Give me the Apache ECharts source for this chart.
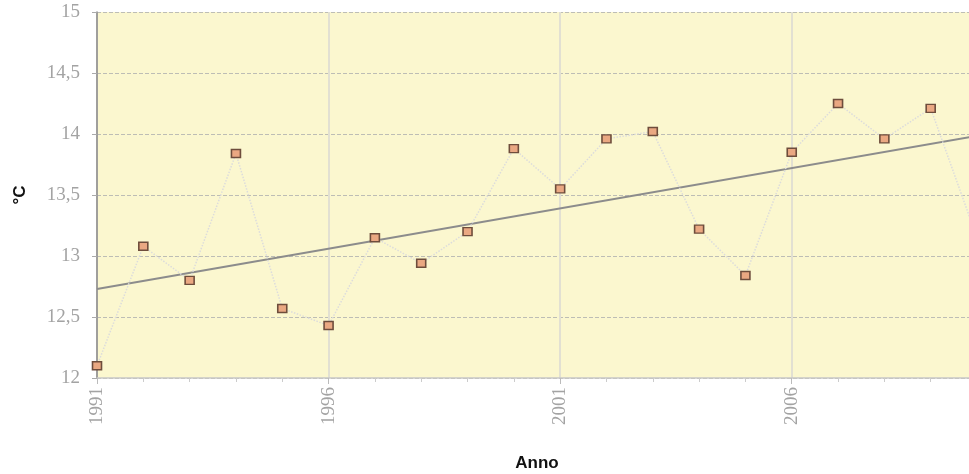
<!DOCTYPE html>
<html><head><meta charset="utf-8">
<script src="https://cdn.jsdelivr.net/npm/echarts@6/dist/echarts.min.js"></script>
<style>html,body{margin:0;padding:0;background:#fff}#c{width:969px;height:474px}</style>
</head><body><div id="c"></div>
<script>
var years = [1991,1992,1993,1994,1995,1996,1997,1998,1999,2000,2001,2002,2003,2004,2005,2006,2007,2008,2009,2010];
var temps = [12.10,13.08,12.80,13.84,12.57,12.43,13.15,12.94,13.20,13.88,13.55,13.96,14.02,13.22,12.84,13.85,14.25,13.96,14.21,13.15];
var trendYears = [1991, 2010];
var trendValues = [12.73, 13.985];
var yTicks = [12, 12.5, 13, 13.5, 14, 14.5, 15];

var chart = echarts.init(document.getElementById('c'));
var serif = 'Liberation Serif';
chart.setOption({
  animation: false,
  grid: {left: 97, right: -8, top: 12, bottom: 96, show: true, backgroundColor: '#fbf7cf', borderWidth: 0,
    containLabel: false, outerBoundsMode: 'none'},
  xAxis: {
    type: 'value', min: 1991, max: 2010, interval: 5,
    name: 'Anno', nameLocation: 'middle', nameGap: 77,
    nameTextStyle: {fontFamily: 'Liberation Sans', fontWeight: 'bold', fontSize: 17, color: '#111'},
    axisLine: {lineStyle: {color: '#c8c8c8', width: 1.5}},
    axisTick: {show: true, length: 6, lineStyle: {color: '#bbb'}},
    minorTick: {show: true, splitNumber: 5, length: 4, lineStyle: {color: '#ccc'}},
    axisLabel: {rotate: 90, fontFamily: serif, fontSize: 19, color: '#a3a3a3', margin: 9,
      formatter: function(v){ return v >= 2010 ? '' : String(v); }},
    splitLine: {show: true, lineStyle: {color: '#e2e0d2', width: 2, type: 'solid'}}
  },
  yAxis: {
    type: 'value', min: 12, max: 15, interval: 0.5,
    name: '°C', nameLocation: 'middle', nameGap: 68,
    nameTextStyle: {fontFamily: 'Liberation Sans', fontWeight: 'bold', fontSize: 17, color: '#111'},
    axisLine: {show: true, lineStyle: {color: '#8a8a8a', width: 1.5}},
    axisTick: {show: true, length: 5, lineStyle: {color: '#aaa'}},
    axisLabel: {fontFamily: serif, fontSize: 19, color: '#a3a3a3', margin: 17,
      formatter: function(v){ return yTicks.indexOf(v) >= 0 ? String(v).replace('.', ',') : ''; }},
    splitLine: {show: true, lineStyle: {color: '#bdbdb5', width: 1, type: [4, 2]}}
  },
  series: [
    {
      type: 'line', data: trendYears.map(function(y, i){ return [y, trendValues[i]]; }),
      symbol: 'none', lineStyle: {color: '#8c8c8c', width: 2}, z: 2, silent: true
    },
    {
      type: 'line', data: years.map(function(y, i){ return [y, temps[i]]; }),
      symbol: 'rect', symbolSize: [9, 8],
      itemStyle: {color: '#eaa882', borderColor: '#6e4d3c', borderWidth: 1.5},
      lineStyle: {color: '#dcdcdc', width: 1.5, type: 'dotted'}, z: 3
    }
  ]
});
</script></body></html>
